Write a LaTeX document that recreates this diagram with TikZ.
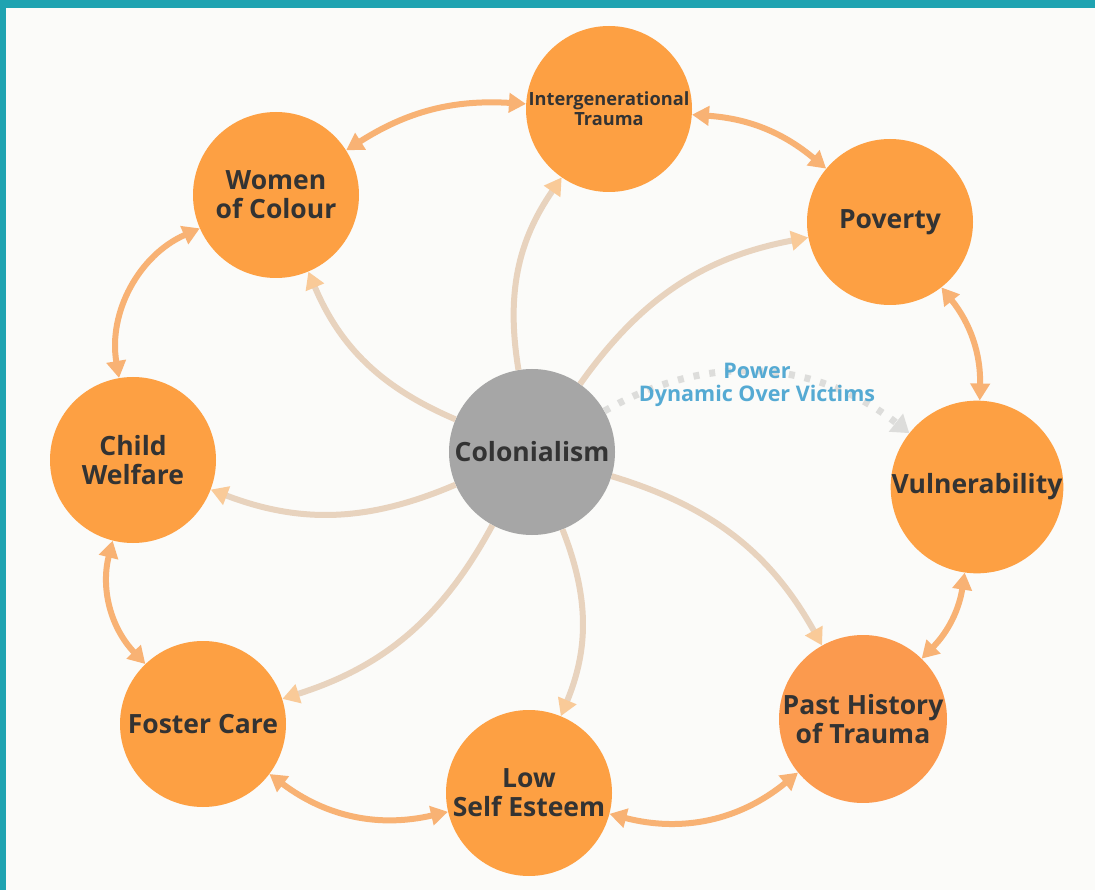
\documentclass[tikz,border=0pt]{standalone}
\usepackage{fontspec}
\setmainfont{Open Sans}
\usetikzlibrary{arrows.meta}
\definecolor{frameteal}{HTML}{1FA3B1}
\definecolor{paper}{HTML}{FBFBF9}
\definecolor{issueorange}{HTML}{FDA043}
\definecolor{traumaorange}{HTML}{FB9A4E}
\definecolor{colgray}{HTML}{A6A6A6}
\definecolor{labeldark}{HTML}{333333}
\definecolor{linkorange}{HTML}{F8B274}
\definecolor{spokebeige}{HTML}{E8D3BE}
\definecolor{spoketip}{HTML}{F9CA98}
\definecolor{dotgray}{HTML}{DDDDDB}
\definecolor{powerblue}{HTML}{55AAD3}
\begin{document}
\begin{tikzpicture}[x=1pt, y=-1pt,
    issue/.style={circle, fill=issueorange, minimum size=166pt, inner sep=0pt, align=center,
      text=labeldark, font=\fontsize{26.5}{29}\selectfont\bfseries},
    spoke/.style={line width=6pt, draw=spokebeige, -{Triangle[length=17pt, width=19pt, color=spoketip]}},
    link/.style={line width=6pt, draw=linkorange, {Triangle[length=17pt, width=19pt]}-{Triangle[length=17pt, width=19pt]}},
    power/.style={line width=7pt, draw=dotgray, dash pattern=on 6pt off 10pt, -{Triangle[length=17pt, width=22pt]}}]
    \fill[paper] (0,0) rectangle (1095,890);
    \fill[frameteal] (0,0) rectangle (1095,8);
    \fill[frameteal] (0,0) rectangle (6,890);
    \node[issue, fill=colgray] (col) at (532,452){Colonialism};
    \node[issue, font=\fontsize{18.2}{20}\selectfont\bfseries] (igt) at (609,109){Intergenerational\\Trauma};
    \node[issue] (woc) at (276,195){Women\\of Colour};
    \node[issue] (pov) at (890,222){Poverty};
    \node[issue] (cw) at (133,460){Child\\Welfare};
    \node[issue] (vul) at (977,487){Vulnerability};
    \node[issue] (fc) at (203,724){Foster Care};
    \node[issue] (lse) at (529,793){Low\\Self Esteem};
    \node[issue, fill=traumaorange] (pht) at (863,719){Past History\\of Trauma};
    \draw[spoke] (col) to[bend left=22] (igt);
    \draw[spoke] (col) to[bend left=22] (pov);
    \draw[spoke] (col) to[bend left=22] (woc);
    \draw[spoke] (col) to[bend left=22] (cw);
    \draw[spoke] (col) to[bend left=22] (fc);
    \draw[spoke] (col) to[bend left=22] (lse);
    \draw[spoke] (col) to[bend left=22] (pht);
    \draw[power] (col) to[bend left=34] (vul);
    \node[align=center, text=powerblue, font=\fontsize{21.5}{23}\selectfont\bfseries] (pdv) at (757,385){Power\\Dynamic Over Victims};
    \draw[link] (woc) to[bend left=18] (igt);
    \draw[link] (igt) to[bend left=18] (pov);
    \draw[link] (pov) to[bend left=20] (vul);
    \draw[link] (vul) to[bend left=18] (pht);
    \draw[link] (pht) to[bend left=27] (lse);
    \draw[link] (lse) to[bend left=25] (fc);
    \draw[link] (fc) to[bend left=29] (cw);
    \draw[link] (cw) to[bend left=38] (woc);
  \end{tikzpicture}
\end{document}
